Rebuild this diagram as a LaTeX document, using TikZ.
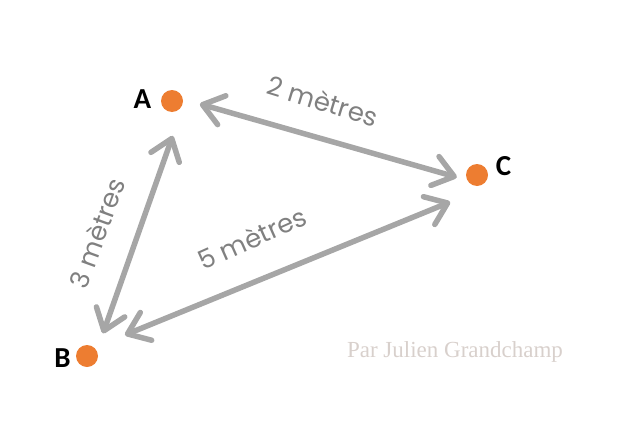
\documentclass[tikz,border=0pt]{standalone}
\usepackage{fontspec}
\setmainfont{Poppins}
\newfontfamily\lblfont{Carlito}
\newfontfamily\signfont{Liberation Serif}
\usetikzlibrary{arrows.meta}

\definecolor{dotorange}{HTML}{ED7D31}
\definecolor{arrowgray}{HTML}{A6A6A6}
\definecolor{textgray}{HTML}{808080}
\definecolor{signgray}{RGB}{216,208,204}

\tikzset{
  point/.style = {circle, fill = dotorange, minimum size = 22pt, inner sep = 0pt},
  letter/.style = {font = \lblfont\bfseries\fontsize{29}{29}\selectfont, anchor = base, inner sep = 0pt},
  dist/.style = {font = \fontsize{26}{26}\selectfont, text = textgray, inner sep = 0pt},
  barb/.tip = {Straight Barb[round, length = 20pt, width = 30pt]},
  arr/.style = {line width = 5.5pt, draw = arrowgray, barb-barb}
}

\begin{document}
\begin{tikzpicture}[x = 1pt, y = -1pt]
\useasboundingbox (0,0) rectangle (634,439);

\node[point] (A) at (172,101) {};
\node[point] (B) at (87,356) {};
\node[point] (C) at (477,175) {};

\draw[arr, shorten <= 29pt, shorten >= 21pt] ([yshift = 5pt]A.center) -- ([yshift = -8pt]C.center);
\draw[arr, shorten <= 24pt, shorten >= 37pt] ([xshift = 8pt]B.center) -- ([xshift = 13pt]A.center);
\draw[arr, shorten <= 41pt, shorten >= 29pt] ([yshift = 5.5pt]B.center) -- ([yshift = -16pt]C.center);

\node[letter] (lA) at (142.5,108.3) {A};
\node[letter] (lB) at (62.5,367) {B};
\node[letter] (lC) at (503.5,175) {C};

\node[dist, rotate = -17] (dAC) at (323,101) {2 mètres};
\node[dist, rotate = 70] (dAB) at (97,233) {3 mètres};
\node[dist, rotate = 24] (dBC) at (252,238) {5 mètres};

\node[font = \signfont\fontsize{23}{23}\selectfont, text = signgray, anchor = base, inner sep = 0pt] (sign) at (455,357) {Par Julien Grandchamp};
\end{tikzpicture}
\end{document}
